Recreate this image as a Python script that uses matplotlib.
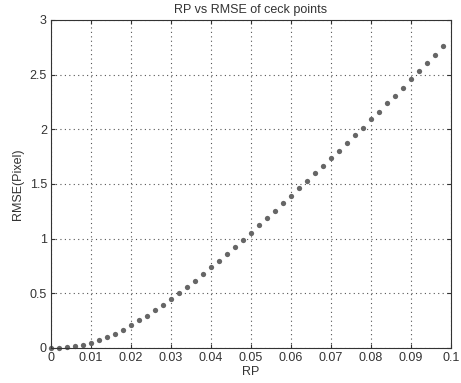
import numpy as np
import matplotlib
matplotlib.use("Agg")
import matplotlib.pyplot as plt

rp = np.arange(0, 0.0995, 0.002)
rmse = [0.0, 0.003, 0.01, 0.02, 0.03, 0.05, 0.077, 0.099, 0.132, 0.167,
        0.212, 0.253, 0.293, 0.349, 0.394, 0.445, 0.5, 0.556, 0.616, 0.677,
        0.737, 0.798, 0.864, 0.924, 0.99, 1.056, 1.121, 1.188, 1.256, 1.323,
        1.392, 1.46, 1.527, 1.598, 1.667, 1.735, 1.802, 1.87, 1.948, 2.015,
        2.091, 2.16, 2.238, 2.303, 2.382, 2.46, 2.534, 2.602, 2.681, 2.765]
xticks = np.arange(0, 0.1001, 0.01)
yticks = np.arange(0, 3.01, 0.5)

plt.rcParams['font.family'] = ['Liberation Sans', 'DejaVu Sans']
plt.rcParams['font.size'] = 9

fig = plt.figure(figsize=(4.61, 3.83), dpi=100)
ax = fig.add_axes([0.1106, 0.0914, 0.8674, 0.8566])
ax.plot(rp, rmse, 'o', color='#666666', markersize=3.8, markeredgewidth=0,
        clip_on=False)

ax.set_xlim(0, 0.1)
ax.set_ylim(0, 3)
ax.set_xticks(xticks)
ax.set_xticklabels(['0'] + ['%g' % v for v in xticks[1:]])
ax.set_yticks(yticks)
ax.set_yticklabels(['%g' % v for v in yticks])
ax.tick_params(direction='in', top=True, right=True, length=3, colors='#333333',
               labelcolor='#333333', pad=3)
ax.grid(True, linestyle=(0, (1, 3)), color='#555555', linewidth=0.8)
for s in ax.spines.values():
    s.set_color('#333333')
    s.set_linewidth(0.8)

ax.set_title('RP vs RMSE of ceck points', color='#333333', fontsize=9, pad=5)
ax.set_xlabel('RP', color='#333333', labelpad=1)
ax.set_ylabel('RMSE(Pixel)', color='#333333', labelpad=4)

fig.savefig('out.png', dpi=100)
